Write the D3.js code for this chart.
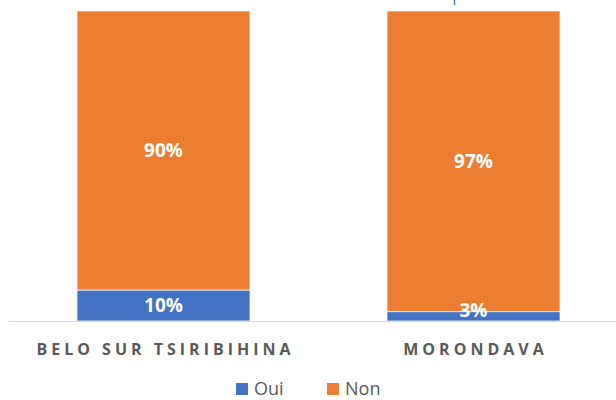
<!DOCTYPE html>
<html>
<head>
<meta charset="utf-8">
<script src="https://cdn.jsdelivr.net/npm/d3@7"></script>
<style>
  body { margin: 0; background: #fff; }
  text { font-family: "Open Sans", "Liberation Sans", sans-serif; }
</style>
</head>
<body>
<div id="chart"></div>
<script>
// chart size
var svgWidth = 616;
var svgHeight = 400;

// data
var categories = ["BELO SUR TSIRIBIHINA", "MORONDAVA"];
var seriesNames = ["Oui", "Non"];
var ouiValues = [0.10, 0.03];
var nonValues = [0.90, 0.97];
var colors = { "Oui": "#4472c4", "Non": "#ed7d31" };

var svg = d3.select("#chart")
  .append("svg")
  .attr("width", svgWidth)
  .attr("height", svgHeight);

// scales
var xScale = d3.scaleBand()
  .domain(categories)
  .range([8.5, 628.5])
  .paddingInner(0.442)
  .paddingOuter(0.221);

var yScale = d3.scaleLinear()
  .domain([0, 1])
  .range([321, 11]);

// build stack table
var table = categories.map((c, i) => ({ cat: c, Oui: ouiValues[i], Non: nonValues[i] }));
var stack = d3.stack().keys(seriesNames)(table);

var layers = svg.selectAll("g.layer")
  .data(stack)
  .enter()
  .append("g")
  .attr("class", "layer")
  .attr("fill", d => colors[d.key]);

layers.selectAll("rect")
  .data(d => d)
  .enter()
  .append("rect")
  .attr("x", d => xScale(d.data.cat))
  .attr("y", d => yScale(d[1]))
  .attr("width", xScale.bandwidth())
  .attr("height", d => yScale(d[0]) - yScale(d[1]))
  .attr("stroke", "#fff")
  .attr("stroke-width", 0.75);

// data labels, drawn on top of every bar
var labelData = stack.flatMap(s => s.map(d => d));
svg.append("g")
  .selectAll("text")
  .data(labelData)
  .enter()
  .append("text")
  .attr("x", d => xScale(d.data.cat) + xScale.bandwidth() / 2)
  .attr("y", d => Math.min((yScale(d[0]) + yScale(d[1])) / 2, yScale(0) - 11))
  .attr("dy", "0.35em")
  .attr("text-anchor", "middle")
  .attr("fill", "#fff")
  .attr("font-weight", "bold")
  .attr("font-size", 19)
  .text(d => Math.round((d[1] - d[0]) * 100) + "%");

// baseline
svg.append("line")
  .attr("x1", 9)
  .attr("x2", svgWidth)
  .attr("y1", yScale(0) + 0.5)
  .attr("y2", yScale(0) + 0.5)
  .attr("stroke", "#d9d9d9")
  .attr("stroke-width", 1);

// small cut-off mark at top
svg.append("line")
  .attr("x1", 454.5).attr("x2", 454.5)
  .attr("y1", 0).attr("y2", 5)
  .attr("stroke", "#4472c4")
  .attr("stroke-width", 1.5);

// category labels
var spacing = 4;
var xAxis = d3.axisBottom(xScale).tickSize(0).tickPadding(0);
var axisG = svg.append("g")
  .attr("transform", `translate(0, 343)`)
  .call(xAxis);
axisG.select(".domain").remove();
axisG.selectAll("text")
  .attr("dy", "0.72em")
  .attr("dx", spacing / 2)
  .attr("fill", "#595959")
  .attr("font-weight", "bold")
  .style("font-size", "16px")
  .style("letter-spacing", spacing + "px")
  .style("font-family", "'Open Sans', sans-serif");

// legend
var legend = svg.append("g")
  .attr("transform", "translate(236, 382)");
var legendItems = legend.selectAll("g")
  .data(seriesNames)
  .enter()
  .append("g")
  .attr("transform", (d, i) => `translate(${i * 91}, 0)`);
legendItems.append("rect")
  .attr("y", 1)
  .attr("width", 12)
  .attr("height", 12)
  .attr("fill", d => colors[d]);
legendItems.append("text")
  .attr("x", 18)
  .attr("y", 13)
  .attr("fill", "#595959")
  .style("font-size", "18px")
  .text(d => d);
</script>
</body>
</html>
